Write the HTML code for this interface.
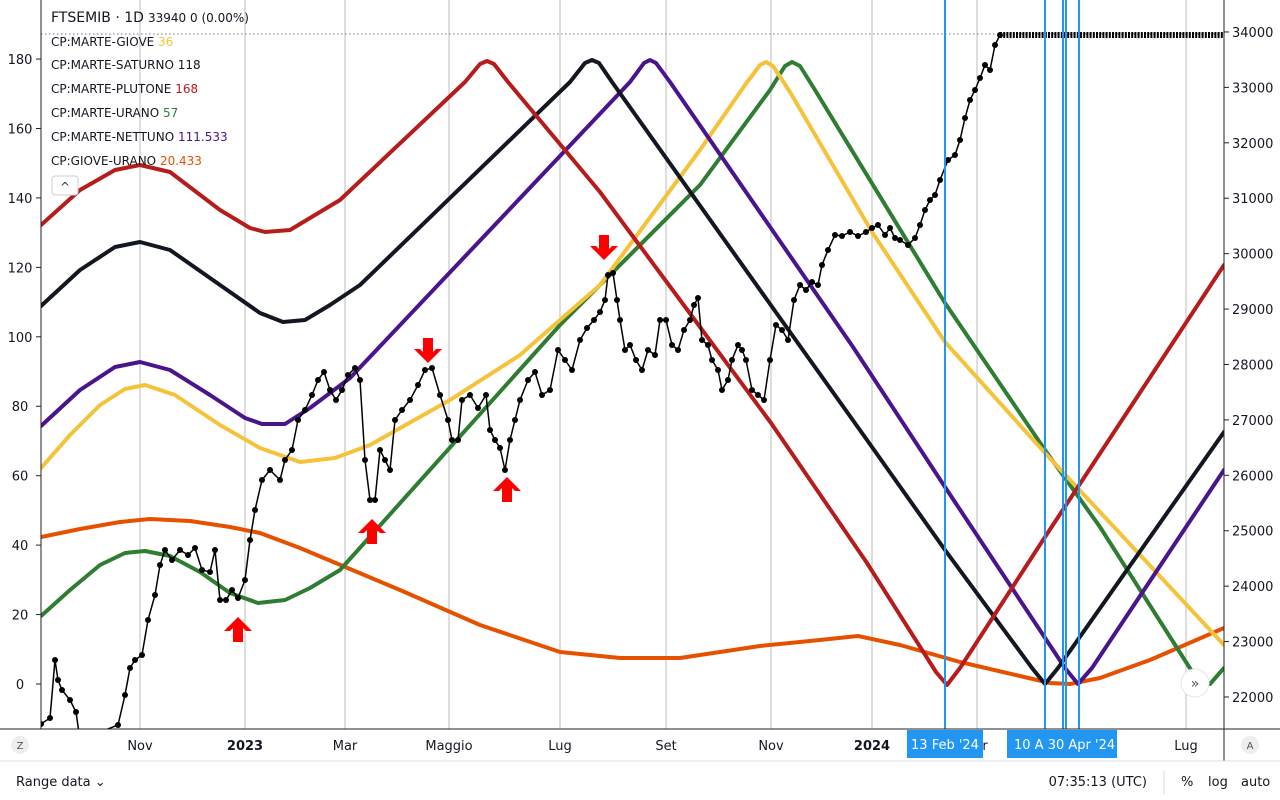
<!DOCTYPE html>
<html><head><meta charset="utf-8">
<style>
html,body{margin:0;padding:0;background:#fff;}
body{width:1280px;height:800px;overflow:hidden;position:relative;font-family:"DejaVu Sans","Liberation Sans",sans-serif;}
svg{position:absolute;left:0;top:0;}
</style></head><body>
<svg id="s" width="1280" height="800" viewBox="0 0 1280 800" xmlns="http://www.w3.org/2000/svg" font-family="DejaVu Sans, Liberation Sans, sans-serif">
<defs><clipPath id="cp"><rect x="41" y="0" width="1183" height="729"/></clipPath></defs>
<rect width="1280" height="800" fill="#fff"/>
<g id="grid" stroke="#c8c8c8" stroke-width="1.2"></g>
<line x1="41" y1="34" x2="1224" y2="34" stroke="#777" stroke-dasharray="1.5,2.5"/>
<g clip-path="url(#cp)">
<g id="curves" fill="none" stroke-width="4" stroke-linejoin="round" stroke-linecap="round"></g>
<g id="price"></g>
</g>
<g id="blue" stroke="#2196f3" stroke-width="2"></g>
<g id="arrows" fill="#ff0000"></g>
<line x1="41" y1="0" x2="41" y2="729" stroke="#222" stroke-width="1"/>
<line x1="1224" y1="0" x2="1224" y2="761" stroke="#222" stroke-width="1"/>
<line x1="0" y1="729" x2="1280" y2="729" stroke="#222" stroke-width="1"/>
<line x1="0" y1="761" x2="1280" y2="761" stroke="#ddd" stroke-width="1"/>
<g id="ticks" font-size="13" fill="#131722"></g>
<g font-size="13" fill="#131722">
<text x="51" y="22" font-size="14">FTSEMIB · 1D</text>
<text x="148" y="22" font-size="12">33940 0 (0.00%)</text>
<text x="51" y="46" font-size="12">CP:MARTE-GIOVE <tspan fill="#f5c33b">36</tspan></text>
<text x="51" y="69" font-size="12">CP:MARTE-SATURNO <tspan>118</tspan></text>
<text x="51" y="93" font-size="12">CP:MARTE-PLUTONE <tspan fill="#b71c1c">168</tspan></text>
<text x="51" y="117" font-size="12">CP:MARTE-URANO <tspan fill="#2e7d32">57</tspan></text>
<text x="51" y="141" font-size="12">CP:MARTE-NETTUNO <tspan fill="#4a148c">111.533</tspan></text>
<text x="51" y="165" font-size="12">CP:GIOVE-URANO <tspan fill="#e65100">20.433</tspan></text>
</g>
<rect x="52" y="176" width="26" height="19" rx="3" fill="#fff" stroke="#ccc"/>
<text x="65" y="191" font-size="12" text-anchor="middle" fill="#333">^</text>
<circle cx="1195" cy="683" r="14" fill="#fff" stroke="#e6e6e6"/>
<text x="1195" y="688" font-size="14" text-anchor="middle" fill="#555">»</text>
<circle cx="20" cy="745" r="9" fill="#eee"/><text x="20" y="749" font-size="10" text-anchor="middle" fill="#555">Z</text>
<circle cx="1250" cy="745" r="9" fill="#eee"/><text x="1250" y="749" font-size="10" text-anchor="middle" fill="#555">A</text>
<rect x="907" y="730" width="76" height="28" fill="#2196f3"/>
<text x="945" y="749" font-size="13" text-anchor="middle" fill="#fff">13 Feb '24</text>
<rect x="1007" y="730" width="110" height="28" fill="#2196f3"/>
<text x="1014" y="749" font-size="13" fill="#fff">10 A  30 Apr '24</text>
<g font-size="13" fill="#131722">
<text x="16" y="786">Range data ⌄</text>
<text x="1147" y="786" text-anchor="end">07:35:13 (UTC)</text>
<line x1="1164" y1="771" x2="1164" y2="795" stroke="#ddd"/>
<text x="1181" y="786">%</text><text x="1208" y="786">log</text><text x="1241" y="786">auto</text>
</g>
</svg>
<script>
const NS="http://www.w3.org/2000/svg";
function el(p,t,a,txt){const e=document.createElementNS(NS,t);for(const k in a)e.setAttribute(k,a[k]);if(txt!==undefined)e.textContent=txt;document.getElementById(p).appendChild(e);return e;}
const L=v=>684-v*3.472;
[140,245,345,449,560,666,771,872,977,1186].forEach(x=>el('grid','line',{x1:x,y1:0,x2:x,y2:729}));
for(let v=0;v<=180;v+=20){el('ticks','text',{x:20,y:L(v)+5,'text-anchor':'middle'},v);el('ticks','line',{x1:36,y1:L(v),x2:41,y2:L(v),stroke:'#222'});}
for(let p=22000;p<=34000;p+=1000){const y=697-(p-22000)*0.05542;el('ticks','text',{x:1232,y:y+5},p);el('ticks','line',{x1:1224,y1:y,x2:1229,y2:y,stroke:'#222'});}
[[140,'Nov'],[245,'2023',1],[345,'Mar'],[449,'Maggio'],[560,'Lug'],[666,'Set'],[771,'Nov'],[872,'2024',1],[1186,'Lug']].forEach(t=>el('ticks','text',{x:t[0],y:750,'text-anchor':'middle','font-weight':t[2]?'bold':'normal'},t[1]));
el('ticks','text',{x:985,y:750,'text-anchor':'middle'},'r');
const curves=[
['#e65100',[[41,537],[80,529],[120,522],[150,519],[190,521],[230,527],[260,533],[300,548],[400,590],[480,625],[560,652],[620,658],[680,658],[720,652],[760,646],[810,641],[858,636],[900,645],[960,662],[1020,676],[1050,683],[1070,684],[1100,678],[1150,660],[1224,628]]],
['#2e7d32',[[41,616],[70,590],[100,565],[125,553],[145,551],[170,556],[200,572],[230,593],[258,603],[285,600],[310,588],[340,570],[560,325],[700,185],[770,90],[785,66],[792,62],[800,66],[815,90],[945,303],[1045,450],[1100,527],[1200,684],[1210,684],[1224,668]]],
['#f5c33b',[[41,468],[70,435],[100,405],[125,389],[145,385],[175,395],[220,425],[260,448],[300,462],[335,458],[370,445],[450,400],[520,355],[600,285],[700,150],[745,85],[760,65],[766,62],[773,66],[790,92],[872,232],[945,342],[1045,453],[1224,645]]],
['#4a148c',[[41,426],[80,390],[115,367],[140,362],[170,370],[210,395],[245,418],[262,424],[285,424],[310,408],[350,378],[630,82],[644,63],[650,60],[656,63],[670,82],[853,347],[945,487],[1065,668],[1078,684],[1092,668],[1224,470]]],
['#131722',[[41,306],[80,270],[115,247],[140,242],[170,250],[220,285],[260,313],[283,322],[305,320],[330,305],[360,285],[570,82],[585,63],[592,60],[599,63],[612,82],[780,318],[867,440],[945,550],[1032,668],[1045,684],[1058,668],[1224,432]]],
['#b71c1c',[[41,225],[80,190],[115,170],[140,165],[170,172],[220,210],[250,228],[265,232],[290,230],[315,215],[340,200],[465,82],[480,64],[487,61],[494,64],[508,82],[600,192],[680,300],[771,423],[867,563],[936,672],[947,685],[960,668],[1045,537],[1224,265]]]
];
curves.forEach(c=>el('curves','polyline',{points:c[1].map(p=>p.join(',')).join(' '),stroke:c[0]}));
const P=[[41,724],[50,718],[55,660],[58,680],[62,690],[70,700],[76,712],[80,740],[118,725],[125,695],[130,668],[135,660],[142,655],[148,620],[155,595],[160,565],[165,550],[172,560],[180,550],[188,555],[195,548],[202,570],[210,572],[215,550],[220,600],[226,600],[232,590],[238,598],[245,580],[250,540],[255,510],[262,480],[270,470],[280,480],[285,460],[292,450],[298,420],[305,410],[312,395],[318,380],[324,372],[330,390],[336,400],[342,390],[348,375],[355,368],[360,380],[365,460],[370,500],[375,500],[380,450],[385,460],[390,470],[395,420],[402,410],[410,400],[418,385],[425,370],[432,368],[440,395],[448,420],[452,440],[458,440],[462,400],[470,395],[478,408],[486,395],[490,430],[495,440],[500,448],[505,470],[510,440],[515,420],[520,400],[528,380],[535,372],[542,395],[550,390],[558,350],[565,360],[572,370],[580,340],[587,328],[594,320],[600,312],[605,300],[608,275],[613,273],[617,300],[620,320],[625,350],[630,345],[636,360],[642,370],[648,350],[655,355],[660,320],[666,320],[672,345],[678,350],[684,330],[690,320],[694,305],[698,298],[702,340],[708,345],[712,360],[718,370],[722,390],[728,380],[732,360],[738,345],[742,350],[746,360],[752,390],[758,395],[764,400],[770,360],[776,325],[782,330],[788,340],[794,300],[800,285],[806,290],[812,282],[818,285],[822,265],[828,250],[835,235],[842,236],[850,232],[858,236],[866,232],[872,228],[878,225],[885,235],[890,228],[895,238],[900,240],[908,245],[915,238],[920,225],[925,210],[930,200],[935,195],[940,180],[948,160],[955,155],[960,140],[965,118],[970,100],[975,90],[980,78],[985,65],[990,70],[995,45],[1000,35]];
el('price','polyline',{points:P.map(p=>p.join(',')).join(' '),fill:'none',stroke:'#000','stroke-width':1.5});
P.forEach(p=>{el('price','circle',{cx:p[0],cy:p[1],r:3,fill:'#000'})});
el('price','line',{x1:1000,y1:35,x2:1224,y2:35,stroke:'#000','stroke-width':6,'stroke-dasharray':'2,1.2'});
[945,1045,1063,1066,1079].forEach(x=>el('blue','line',{x1:x,y1:0,x2:x,y2:729}));
function arrow(x,y,up){const s=up?1:-1;const pts=[[x,y],[x+14,y+14*s],[x+8,y+14*s],[x+5,y+11*s],[x+5,y+25*s],[x-5,y+25*s],[x-5,y+11*s],[x-8,y+14*s],[x-14,y+14*s]];el('arrows','polygon',{points:pts.map(p=>p.join(',')).join(' ')});}
arrow(238,617,1);arrow(372,519,1);arrow(507,477,1);arrow(428,363,0);arrow(604,260,0);
</script>
</body></html>
